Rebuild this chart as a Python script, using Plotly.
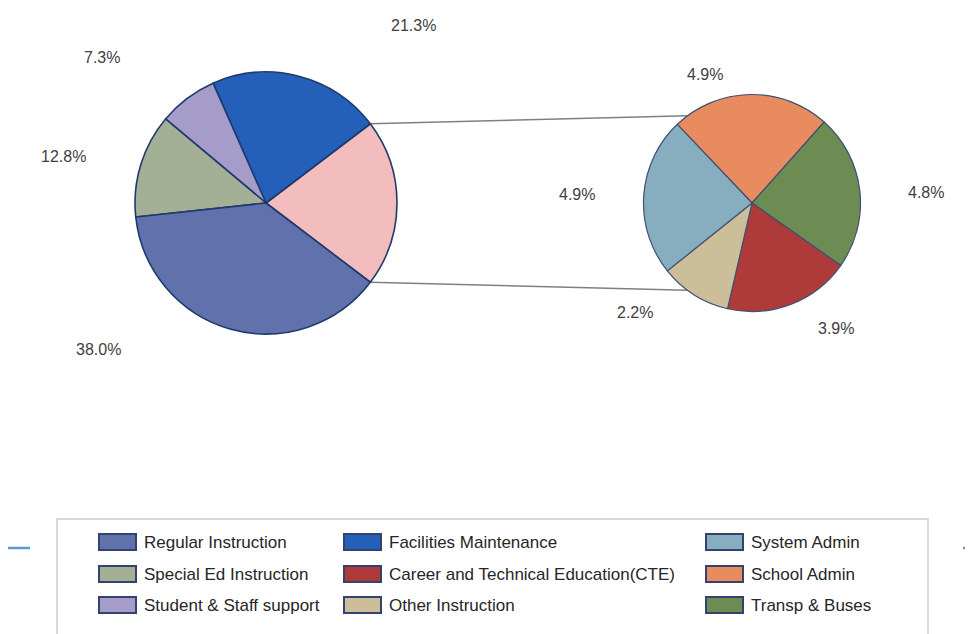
import numpy as np
import plotly.graph_objects as go

# Daten: Hauptkreis und Unterkreis (Anteil in %)
main_labels = ["Regular Instruction", "Special Ed Instruction", "Student & Staff support", "Facilities Maintenance"]
main_values = [38.0, 12.8, 7.3, 21.3]
sub_labels = ["School Admin", "Transp & Buses", "Career and Technical Education(CTE)", "Other Instruction", "System Admin"]
sub_values = [4.9, 4.8, 3.9, 2.2, 4.9]
other_label = "Other"
other_value = round(sum(sub_values), 1)

legend_cols = [
    ["Regular Instruction", "Special Ed Instruction", "Student & Staff support"],
    ["Facilities Maintenance", "Career and Technical Education(CTE)", "Other Instruction"],
    ["System Admin", "School Admin", "Transp & Buses"],
]

colors = {
    "Regular Instruction": "#6171AB",
    "Special Ed Instruction": "#A4B096",
    "Student & Staff support": "#A59CC9",
    "Facilities Maintenance": "#2460B9",
    "Other": "#F2BDBC",
    "System Admin": "#87AEBF",
    "School Admin": "#E88B5F",
    "Transp & Buses": "#6C8C53",
    "Career and Technical Education(CTE)": "#AF3A3A",
    "Other Instruction": "#CBBE98",
}

# Label-Positionen in Pixel (x, y)
main_label_pos = {
    "Regular Instruction": (98, 349),
    "Special Ed Instruction": (63, 156),
    "Student & Staff support": (102, 58),
    "Facilities Maintenance": (413, 25),
}
sub_label_pos = {
    "School Admin": (705, 74),
    "Transp & Buses": (926, 193),
    "Career and Technical Education(CTE)": (836, 328),
    "Other Instruction": (635, 312),
    "System Admin": (577, 195),
}

W, H = 973, 634
OFF = 8  # Seitenrand des Browsers
FONT = "Liberation Sans, Arial, sans-serif"


def px(x):
    return (x - OFF) / W


def py(y):
    return 1 - (y - OFF) / H


main_c, main_r = (266, 203), 131
sub_c, sub_r = (752, 203), 108.5

# Reihenfolge gegen Uhrzeigersinn ab dem "Other"-Segment
order = [other_label, "Facilities Maintenance", "Student & Staff support",
         "Special Ed Instruction", "Regular Instruction"]
vals = dict(zip(main_labels, main_values))
vals[other_label] = other_value
main_order_vals = [vals[l] for l in order]
total = sum(main_order_vals)
half = other_value / total * 180  # halber Winkel des Other-Segments

fig = go.Figure()
fig.add_trace(go.Pie(
    labels=order, values=main_order_vals, sort=False,
    direction="counterclockwise", rotation=90 - half,
    marker=dict(colors=[colors[l] for l in order], line=dict(color="#1F3A6E", width=1.6)),
    textinfo="none", showlegend=False,
    domain=dict(x=[px(main_c[0] - main_r), px(main_c[0] + main_r)],
                y=[py(main_c[1] + main_r), py(main_c[1] - main_r)]),
))
fig.add_trace(go.Pie(
    labels=sub_labels, values=sub_values, sort=False,
    direction="clockwise", rotation=-43.5,
    marker=dict(colors=[colors[l] for l in sub_labels], line=dict(color="#3F5070", width=1.2)),
    textinfo="none", showlegend=False,
    domain=dict(x=[px(sub_c[0] - sub_r), px(sub_c[0] + sub_r)],
                y=[py(sub_c[1] + sub_r), py(sub_c[1] - sub_r)]),
))

annotations = []
for lab, v in zip(main_labels, main_values):
    x, y = main_label_pos[lab]
    annotations.append(dict(x=px(x), y=py(y), text=f"{v:.1f}%", showarrow=False))
for lab, v in zip(sub_labels, sub_values):
    x, y = sub_label_pos[lab]
    annotations.append(dict(x=px(x), y=py(y), text=f"{v:.1f}%", showarrow=False))
for a in annotations:
    a.update(xref="paper", yref="paper", xanchor="center", yanchor="middle",
             font=dict(family=FONT, size=16, color="#404040"))

shapes = []
# Verbindungslinien
for s in (1, -1):
    a1 = np.radians(s * half)
    a2 = np.radians(s * 126.5)
    x0 = main_c[0] + main_r * np.cos(a1)
    y0 = main_c[1] - main_r * np.sin(a1)
    x1 = sub_c[0] + sub_r * np.cos(a2)
    y1 = sub_c[1] - sub_r * np.sin(a2)
    shapes.append(dict(type="line", xref="paper", yref="paper",
                       x0=px(x0), y0=py(y0), x1=px(x1), y1=py(y1),
                       line=dict(color="#7F7F7F", width=1.5), layer="below"))

# blaue Linienstücke links und rechts der Legende
for xa, xb in ((0, 30), (963, 990)):
    shapes.append(dict(type="line", xref="paper", yref="paper", x0=px(xa), x1=px(xb),
                       y0=py(548), y1=py(548),
                       line=dict(color="#5B9BD5", width=2.5), layer="above"))
# Legendenrahmen
shapes.append(dict(type="rect", xref="paper", yref="paper", x0=px(57), x1=px(928), y0=py(640), y1=py(519),
                   fillcolor="white", line=dict(color="#D9D9D9", width=2), layer="above"))

col_x = [99, 344, 706]
row_y = [542, 574, 605]
for ci, col in enumerate(legend_cols):
    for ri, lab in enumerate(col):
        x0 = col_x[ci]
        yc = row_y[ri]
        shapes.append(dict(type="rect", xref="paper", yref="paper",
                           x0=px(x0), x1=px(x0 + 37), y0=py(yc + 8), y1=py(yc - 8),
                           fillcolor=colors[lab], line=dict(color="#33436E", width=2), layer="above"))
        annotations.append(dict(x=px(x0 + 43), y=py(yc), xref="paper", yref="paper",
                                text=lab, showarrow=False, xanchor="left", yanchor="middle",
                                font=dict(family=FONT, size=17, color="#262626")))

fig.update_layout(
    width=W, height=H,
    margin=dict(l=0, r=0, t=0, b=0),
    paper_bgcolor="white", plot_bgcolor="white",
    shapes=shapes, annotations=annotations,
    showlegend=False,
)

fig.write_html("out.html")
